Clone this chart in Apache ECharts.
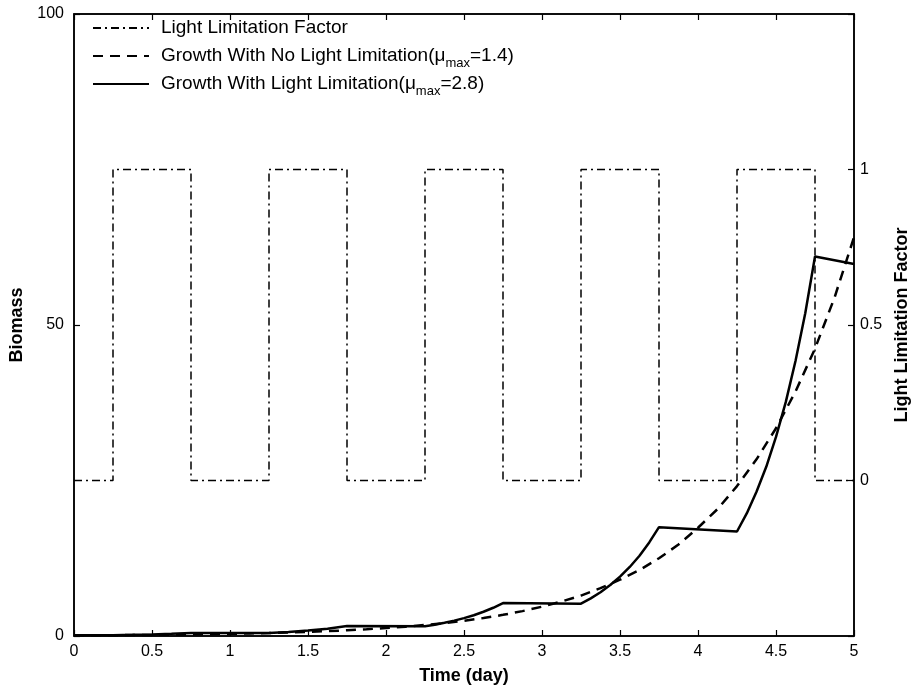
<!DOCTYPE html>
<html>
<head>
<meta charset="utf-8">
<script src="https://cdn.jsdelivr.net/npm/echarts@6/dist/echarts.min.js"></script>
<style>html,body{margin:0;padding:0;background:#fff}#c{width:913px;height:693px}</style>
</head>
<body>
<div id="c"></div>
<script>
// Light limitation factor (step function)
const lightTime   = [0, 0.25, 0.25, 0.75, 0.75, 1.25, 1.25, 1.75, 1.75, 2.25, 2.25, 2.75, 2.75, 3.25, 3.25, 3.75, 3.75, 4.25, 4.25, 4.75, 4.75, 5];
const lightFactor = [0, 0,    1,    1,    0,    0,    1,    1,    0,    0,    1,    1,    0,    0,    1,    1,    0,    0,    1,    1,    0,    0];

// Growth with no light limitation (mu_max = 1.4)
const timeNoLim = [0, 0.125, 0.25, 0.375, 0.5, 0.625, 0.75, 0.875, 1, 1.125, 1.25, 1.375, 1.5, 1.625, 1.75, 1.875, 2, 2.125, 2.25, 2.375, 2.5, 2.625, 2.75, 2.875, 3, 3.125, 3.25, 3.375, 3.5, 3.625, 3.75, 3.875, 4, 4.125, 4.25, 4.375, 4.5, 4.625, 4.75, 4.875, 5];
const biomassNoLim = [0.094, 0.11, 0.13, 0.153, 0.18, 0.212, 0.25, 0.294, 0.346, 0.407, 0.48, 0.565, 0.665, 0.78, 0.92, 1.08, 1.28, 1.5, 1.77, 2.08, 2.45, 2.88, 3.4, 4.0, 4.71, 5.54, 6.5, 7.7, 9.05, 10.6, 12.5, 14.7, 17.4, 20.4, 24.1, 28.4, 33.4, 39.3, 46.2, 54.4, 64.1];

// Growth with light limitation (mu_max = 2.8)
const timeLim = [0, 0.25, 0.375, 0.5, 0.625, 0.75, 1.25, 1.375, 1.5, 1.625, 1.75, 2.25, 2.3125, 2.375, 2.4375, 2.5, 2.5625, 2.625, 2.6875, 2.75, 3.25, 3.3125, 3.375, 3.4375, 3.5, 3.5625, 3.625, 3.6875, 3.75, 4.25, 4.3125, 4.375, 4.4375, 4.5, 4.5625, 4.625, 4.6875, 4.75, 5];
const biomassLim = [0.14, 0.14, 0.19, 0.26, 0.35, 0.48, 0.47, 0.64, 0.87, 1.18, 1.6, 1.56, 1.82, 2.12, 2.47, 2.87, 3.34, 3.9, 4.54, 5.3, 5.2, 6.05, 7.04, 8.2, 9.55, 11.1, 12.9, 15.05, 17.5, 16.8, 19.7, 23.2, 27.2, 32.0, 37.6, 44.2, 51.9, 61.0, 59.8];

const nameLight = 'Light Limitation Factor';
const nameNoLim = 'Growth With No Light Limitation(μmax=1.4)';
const nameLim = 'Growth With Light Limitation(μmax=2.8)';

const zip = (a, b) => a.map((v, i) => [v, b[i]]);
const FONT = '"Liberation Sans", Arial, Helvetica, sans-serif';

const chart = echarts.init(document.getElementById('c'), null, {renderer: 'canvas'});
const axisLine = {show: true, onZero: false, lineStyle: {color: '#000', width: 1.5}};
const tick = {show: true, inside: true, length: 6, lineStyle: {color: '#000', width: 1.2}};
const titleStyle = {fontSize: 18, fontWeight: 'bold', color: '#000', fontFamily: FONT};

chart.setOption({
  animation: false,
  backgroundColor: '#fff',
  textStyle: {fontFamily: FONT, color: '#000'},
  grid: {left: 74, right: 59, top: 14, bottom: 57, containLabel: false, outerBoundsMode: 'none',
         show: true, borderColor: '#000', borderWidth: 1.5, backgroundColor: 'transparent'},
  legend: {
    left: 92, top: 14, orient: 'vertical', itemWidth: 56, itemHeight: 14, itemGap: 0, padding: 0,
    data: [nameLight, nameNoLim, nameLim],
    itemStyle: {opacity: 0},
    textStyle: {fontSize: 19, lineHeight: 28, color: '#000', fontFamily: FONT, padding: [0, 0, 0, 7],
      rich: {sub: {fontSize: 13, lineHeight: 10, fontFamily: FONT, verticalAlign: 'bottom', padding: [14, 0, 0, 0]}}},
    formatter: function (n) { return n.replace('μmax', 'μ{sub|max}'); }
  },
  xAxis: [{
    type: 'value', min: 0, max: 5, interval: 0.5, position: 'bottom',
    axisLine: axisLine, axisTick: tick, splitLine: {show: false},
    axisLabel: {color: '#000', fontSize: 16, margin: 8, fontFamily: FONT},
    name: 'Time (day)', nameLocation: 'middle', nameGap: 31, nameTextStyle: titleStyle
  }, {
    type: 'value', min: 0, max: 5, interval: 0.5, position: 'top',
    axisLine: axisLine, axisTick: tick, splitLine: {show: false}, axisLabel: {show: false}
  }],
  yAxis: [{
    type: 'value', min: 0, max: 100, interval: 50, position: 'left',
    axisLine: axisLine, axisTick: tick, splitLine: {show: false},
    axisLabel: {color: '#000', fontSize: 16, margin: 10, fontFamily: FONT},
    name: 'Biomass', nameLocation: 'middle', nameGap: 46, nameTextStyle: titleStyle
  }, {
    type: 'value', min: -0.5, max: 1.5, interval: 0.5, position: 'right',
    axisLine: axisLine, axisTick: tick, splitLine: {show: false},
    axisLabel: {color: '#000', fontSize: 16, margin: 6, fontFamily: FONT,
      formatter: function (v) { return (v < 0 || v > 1) ? '' : String(v); }},
    name: 'Light Limitation Factor', nameLocation: 'middle', nameGap: 34, nameTextStyle: titleStyle
  }],
  series: [{
    name: nameLight, type: 'line', yAxisIndex: 1, symbol: 'none',
    data: zip(lightTime, lightFactor),
    lineStyle: {color: '#000', width: 1.5, type: [8, 4, 2, 4]}, itemStyle: {color: '#000'}
  }, {
    name: nameNoLim, type: 'line', yAxisIndex: 0, symbol: 'none',
    data: zip(timeNoLim, biomassNoLim),
    lineStyle: {color: '#000', width: 2.5, type: [10, 7]}, itemStyle: {color: '#000'}
  }, {
    name: nameLim, type: 'line', yAxisIndex: 0, symbol: 'none',
    data: zip(timeLim, biomassLim),
    lineStyle: {color: '#000', width: 2.5, type: 'solid'}, itemStyle: {color: '#000'}
  }]
});
</script>
</body>
</html>
